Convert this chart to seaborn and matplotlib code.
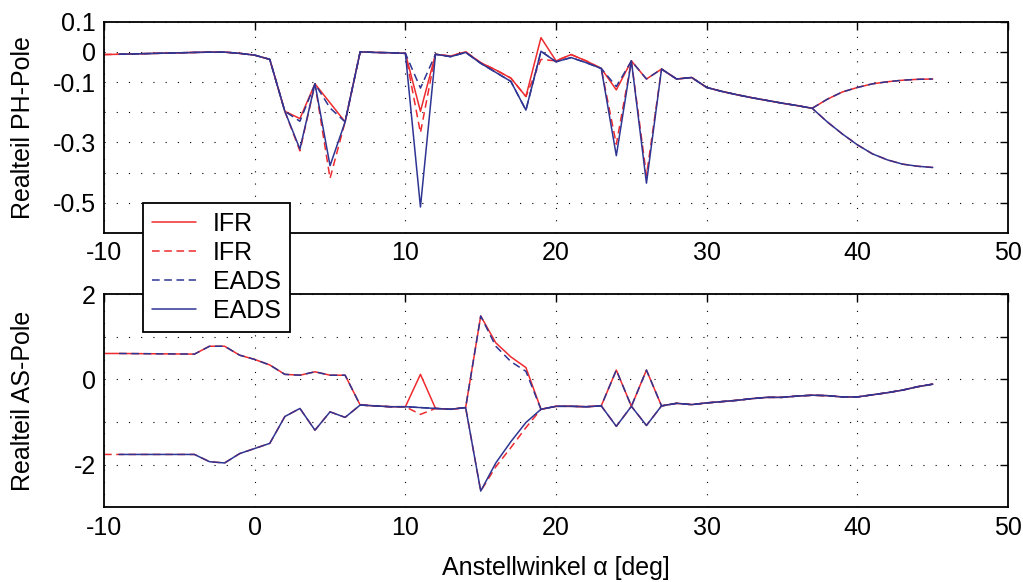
import matplotlib
matplotlib.use("Agg")
import matplotlib.pyplot as plt
import seaborn as sns

# -------------------- Data -------------------- #
# angle of attack samples (EADS starts at -9, IFR has an extra point at -10)
alpha_eads = [-9, -4, -3, -2, -1, 0, 1, 2, 3, 4, 5, 6, 7, 8, 9, 10, 11, 12, 13, 14,
              15, 16, 17, 18, 19, 20, 21, 22, 23, 24, 25, 26, 27, 28, 29, 30, 31, 32,
              33, 34, 35, 36, 37, 38, 39, 40, 41, 42, 43, 44, 45]
alpha_ifr = [-10] + alpha_eads

# real part of phugoid poles
ph_ifr_1 = [-0.009, -0.008, -0.002, -0.001, -0.001, -0.005, -0.011, -0.025, -0.197,
            -0.221, -0.106, -0.169, -0.232, 0.000, -0.002, -0.003, -0.005, -0.197,
            -0.008, -0.014, 0.000, -0.036, -0.060, -0.087, -0.148, 0.047, -0.030,
            -0.009, -0.030, -0.055, -0.126, -0.030, -0.090, -0.057, -0.090, -0.085,
            -0.118, -0.131, -0.142, -0.152, -0.161, -0.170, -0.178, -0.187, -0.157,
            -0.133, -0.118, -0.106, -0.099, -0.094, -0.091, -0.090]
ph_ifr_2 = [-0.009, -0.008, -0.002, -0.001, -0.001, -0.005, -0.011, -0.025, -0.197,
            -0.328, -0.106, -0.419, -0.232, 0.000, -0.002, -0.003, -0.005, -0.268,
            -0.008, -0.014, 0.000, -0.036, -0.060, -0.087, -0.148, -0.025, -0.030,
            -0.009, -0.030, -0.055, -0.306, -0.030, -0.410, -0.057, -0.090, -0.085,
            -0.118, -0.131, -0.142, -0.152, -0.161, -0.170, -0.178, -0.187, -0.232,
            -0.272, -0.308, -0.338, -0.358, -0.372, -0.379, -0.383]
ph_eads_2 = [-0.008, -0.002, -0.001, -0.001, -0.005, -0.011, -0.025, -0.197,
             -0.230, -0.106, -0.186, -0.232, 0.000, -0.002, -0.003, -0.005, -0.120,
             -0.008, -0.016, -0.002, -0.038, -0.068, -0.098, -0.193, 0.002, -0.033,
             -0.019, -0.036, -0.055, -0.115, -0.030, -0.090, -0.057, -0.090, -0.085,
             -0.118, -0.131, -0.142, -0.152, -0.161, -0.170, -0.178, -0.187, -0.157,
             -0.133, -0.118, -0.106, -0.099, -0.094, -0.091, -0.090]
ph_eads_1 = [-0.008, -0.002, -0.001, -0.001, -0.005, -0.011, -0.025, -0.197,
             -0.322, -0.106, -0.377, -0.232, 0.000, -0.002, -0.003, -0.005, -0.514,
             -0.008, -0.016, -0.002, -0.038, -0.068, -0.098, -0.193, 0.002, -0.033,
             -0.019, -0.036, -0.055, -0.344, -0.030, -0.435, -0.057, -0.090, -0.085,
             -0.118, -0.131, -0.142, -0.152, -0.161, -0.170, -0.178, -0.187, -0.232,
             -0.272, -0.308, -0.338, -0.358, -0.372, -0.379, -0.383]

# real part of short period (AS) poles
as_ifr_1 = [0.61, 0.61, 0.595, 0.78, 0.78, 0.57, 0.47, 0.34, 0.12, 0.10, 0.18, 0.10,
            0.10, -0.60, -0.62, -0.64, -0.64, 0.12, -0.68, -0.70, -0.66, 1.49, 0.86,
            0.53, 0.28, -0.70, -0.63, -0.63, -0.64, -0.62, 0.22, -0.63, 0.22, -0.62,
            -0.56, -0.59, -0.55, -0.52, -0.49, -0.45, -0.42, -0.42, -0.39, -0.37,
            -0.38, -0.41, -0.41, -0.36, -0.31, -0.25, -0.17, -0.11]
as_ifr_2 = [-1.76, -1.76, -1.76, -1.93, -1.96, -1.74, -1.62, -1.50, -0.87, -0.68,
            -1.19, -0.76, -0.89, -0.60, -0.62, -0.64, -0.64, -0.82, -0.68, -0.70,
            -0.66, -2.62, -2.05, -1.60, -1.13, -0.70, -0.63, -0.63, -0.64, -0.62,
            -1.10, -0.63, -1.08, -0.62, -0.56, -0.59, -0.55, -0.52, -0.49, -0.45,
            -0.42, -0.42, -0.39, -0.37, -0.38, -0.41, -0.41, -0.36, -0.31, -0.25,
            -0.17, -0.11]
as_eads_2 = [0.61, 0.595, 0.78, 0.78, 0.57, 0.47, 0.34, 0.12, 0.10, 0.18, 0.10,
             0.10, -0.60, -0.62, -0.64, -0.64, -0.66, -0.68, -0.70, -0.66, 1.49, 0.78,
             0.42, 0.19, -0.70, -0.63, -0.63, -0.64, -0.62, 0.22, -0.63, 0.22, -0.62,
             -0.56, -0.59, -0.55, -0.52, -0.49, -0.45, -0.42, -0.42, -0.39, -0.37,
             -0.38, -0.41, -0.41, -0.36, -0.31, -0.25, -0.17, -0.11]
as_eads_1 = [-1.76, -1.76, -1.93, -1.96, -1.74, -1.62, -1.50, -0.87, -0.68,
             -1.19, -0.76, -0.89, -0.60, -0.62, -0.64, -0.64, -0.66, -0.68, -0.70,
             -0.66, -2.62, -1.96, -1.46, -1.01, -0.70, -0.63, -0.63, -0.64, -0.62,
             -1.10, -0.63, -1.08, -0.62, -0.56, -0.59, -0.55, -0.52, -0.49, -0.45,
             -0.42, -0.42, -0.39, -0.37, -0.38, -0.41, -0.41, -0.36, -0.31, -0.25,
             -0.17, -0.11]

x_ticks = [-10, 0, 10, 20, 30, 40, 50]
ph_ticks = [-0.5, -0.4, -0.3, -0.2, -0.1, 0, 0.1]
ph_labels = ["-0.5", "", "-0.3", "", "-0.1", "0", "0.1"]
as_ticks = [-2, -1, 0, 1, 2]
as_labels = ["-2", "", "0", "", "2"]

RED = "#ee2b2f"
BLUE = "#2e3592"
DASH = (0, (5, 3))

# -------------------- Plot -------------------- #
sns.set_style("white")
plt.rcParams["font.family"] = ["Liberation Sans", "DejaVu Sans"]
plt.rcParams["axes.unicode_minus"] = False
plt.rcParams["font.size"] = 18
plt.rcParams["text.color"] = "black"
plt.rcParams["axes.labelcolor"] = "black"
plt.rcParams["xtick.color"] = "black"
plt.rcParams["ytick.color"] = "black"

fig = plt.figure(figsize=(10.23, 5.82), dpi=100)
ax_ph = fig.add_axes([0.1017, 0.5997, 0.8837, 0.3631])
ax_as = fig.add_axes([0.1017, 0.1284, 0.8837, 0.3660])

series = [
    ("IFR", RED, "-", alpha_ifr, ph_ifr_1, as_ifr_1),
    ("IFR", RED, DASH, alpha_ifr, ph_ifr_2, as_ifr_2),
    ("EADS", BLUE, DASH, alpha_eads, ph_eads_2, as_eads_2),
    ("EADS", BLUE, "-", alpha_eads, ph_eads_1, as_eads_1),
]

for name, col, ls, xs, ph, asp in series:
    sns.lineplot(x=xs, y=ph, ax=ax_ph, color=col, linestyle=ls, linewidth=1.1,
                 label=name, legend=False)
    sns.lineplot(x=xs, y=asp, ax=ax_as, color=col, linestyle=ls, linewidth=1.1,
                 legend=False)

for ax in (ax_ph, ax_as):
    ax.set_xlim(-10, 50)
    ax.set_xticks(x_ticks)
    ax.set_xticklabels([str(t) for t in x_ticks])
    ax.grid(True, color="black", linestyle=(0, (1, 10)), linewidth=0.8)
    ax.tick_params(direction="in", top=True, right=True, length=6, width=1,
                   labelsize=18, pad=6, colors="black")
    for sp in ax.spines.values():
        sp.set_linewidth(1.3)
        sp.set_color("black")

ax_ph.set_ylim(-0.6, 0.1)
ax_ph.set_yticks(ph_ticks)
ax_ph.set_yticklabels(ph_labels)
ax_ph.set_ylabel("Realteil PH-Pole", fontsize=18)
ax_ph.yaxis.set_label_coords(-0.076, 0.5)

ax_as.set_ylim(-3, 2)
ax_as.set_yticks(as_ticks)
ax_as.set_yticklabels(as_labels)
ax_as.set_ylabel("Realteil AS-Pole", fontsize=18)
ax_as.yaxis.set_label_coords(-0.076, 0.5)
ax_as.set_xlabel("Anstellwinkel α [deg]", fontsize=18, labelpad=12)

# legend sits over both panels, like in the original figure
handles, labels = ax_ph.get_legend_handles_labels()
leg = fig.legend(handles, labels, loc="upper left",
                 bbox_to_anchor=(143 / 1023, 1 - 203 / 582),
                 frameon=True, fancybox=False, framealpha=1, edgecolor="black",
                 borderaxespad=0, borderpad=0.35, labelspacing=0.2,
                 handlelength=1.75, handletextpad=0.7, fontsize=18)
leg.get_frame().set_linewidth(1.3)

fig.savefig("out.png", dpi=100, facecolor="white")
